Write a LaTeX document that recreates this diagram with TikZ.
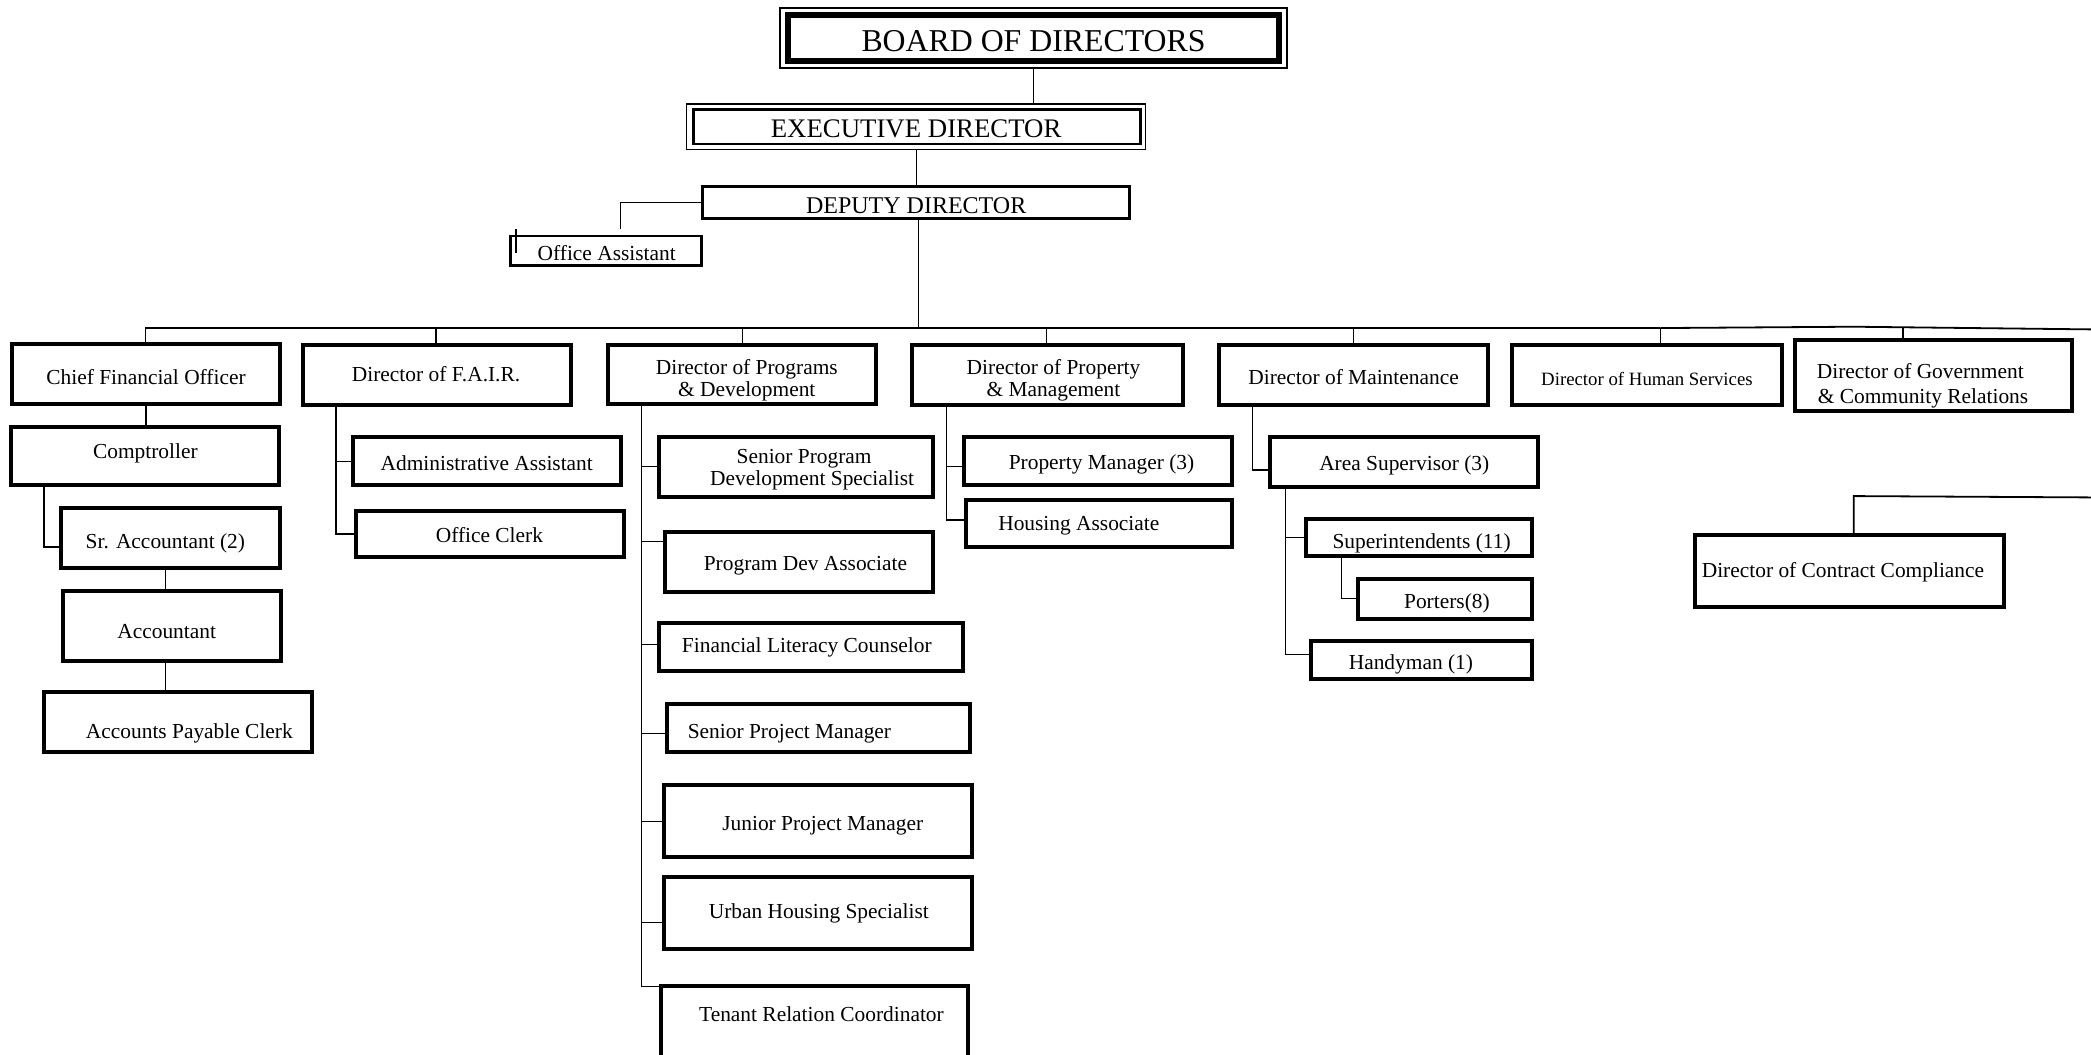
\documentclass[tikz,border=0pt]{standalone}
\usepackage{fontspec}
\setmainfont{Liberation Serif}
\usetikzlibrary{calc}
\newcommand\obox[6]{%
  \pgfmathsetmacro\obw{(#5-#3)*0.6667}%
  \pgfmathsetmacro\obh{(#6-#4)*0.6667}%
  \node[#1, minimum width=\obw pt, minimum height=\obh pt] (#2) at ({(#3+#5)/2},{(#4+#6)/2}) {};%
}
\begin{document}
\begin{tikzpicture}[x=0.6667pt,y=-0.6667pt,
  box/.style={draw, rectangle, line width=2pt, inner sep=0pt},
  mbox/.style={draw, rectangle, line width=1.3pt, inner sep=0pt},
  outerthin/.style={draw, rectangle, line width=0.7pt, inner sep=0pt},
  boardin/.style={draw, rectangle, line width=3pt, inner sep=0pt},
  execin/.style={draw, rectangle, line width=1.3pt, inner sep=0pt},
  conn/.style={line width=0.6pt},
  tbase/.style={inner sep=0pt, yshift=-1.4pt},
  txt/.style={tbase, font=\fontsize{10.7}{11.5}\selectfont, text height=7.2pt, text depth=2pt},
  txtb/.style={tbase, align=center, font=\fontsize{10.7}{11.3}\selectfont},
]
\useasboundingbox (0,0) rectangle (1568,791);

% top
\obox{outerthin}{boardo}{585}{6}{965}{51}
\obox{boardin}{board}{591}{11}{959}{46}
\node[tbase, yshift=0.4pt, font=\fontsize{15.9}{18}\selectfont] (boardt) at (775,29) {BOARD OF DIRECTORS};
\obox{outerthin}{execo}{515}{78}{859}{112}
\obox{execin}{exec}{520}{82}{855}{108}
\node[tbase, yshift=0.4pt, font=\fontsize{13.4}{15}\selectfont] (exect) at (687,95) {EXECUTIVE DIRECTOR};
\obox{mbox}{dep}{527}{140}{847}{164}
\node[tbase, yshift=0.4pt, font=\fontsize{12}{14}\selectfont] (dept) at (687,153) {DEPUTY DIRECTOR};
\obox{mbox}{oa}{383}{177}{526}{199}
\node[txt] (oat) at (455,189) {Office Assistant};

% level 2
\obox{box}{cfo}{9}{258}{210}{303}
\node[txt] (cfot) at (109.5,282) {Chief Financial Officer};
\obox{box}{fair}{227}{259}{428}{304}
\node[txt] (fairt) at (327,280) {Director of F.A.I.R.};
\obox{box}{prog}{456}{259}{657}{303}
\node[txtb] (progt) at (560,283) {Director of Programs\\\& Development};
\obox{box}{prop}{684}{259}{887}{304}
\node[txtb] (propt) at (790,283) {Director of Property\\\& Management};
\obox{box}{maint}{914}{259}{1116}{304}
\node[txt] (maintt) at (1015,282) {Director of Maintenance};
\obox{box}{hs}{1134}{259}{1336}{304}
\node[tbase, font=\fontsize{9.4}{11}\selectfont] (hst) at (1235,282) {Director of Human Services};
\obox{box}{gov}{1346}{255}{1554}{308}
\node[tbase, align=center, font=\fontsize{10.7}{12.7}\selectfont] (govt) at (1440,287) {Director of Government\\\ \& Community Relations};

% CFO branch
\obox{box}{comp}{8}{320}{209}{364}
\node[txt] (compt) at (109,338) {Comptroller};
\obox{box}{sracc}{46}{381}{210}{426}
\node[txt] (sracct) at (124,405) {Sr. Accountant (2)};
\obox{box}{acc}{47}{443}{211}{496}
\node[txt] (acct) at (125,473) {Accountant};
\obox{box}{apc}{33}{519}{234}{564}
\node[txt] (apct) at (142,548) {Accounts Payable Clerk};

% FAIR branch
\obox{box}{adm}{265}{328}{466}{364}
\node[txt] (admt) at (365,347) {Administrative Assistant};
\obox{box}{oc}{267}{383}{468}{418}
\node[txt] (oct) at (367,401) {Office Clerk};

% Programs branch
\obox{box}{spds}{494}{328}{700}{373}
\node[txtb] (spdst) at (609,350) {\hspace*{-8pt}Senior Program\\Development Specialist};
\obox{box}{pda}{499}{399}{700}{444}
\node[txt] (pdat) at (604,422) {Program Dev Associate};
\obox{box}{flc}{494}{467}{722}{503}
\node[txt] (flct) at (605,483) {Financial Literacy Counselor};
\obox{box}{spm}{500}{528}{727}{564}
\node[txt] (spmt) at (592,548) {Senior Project Manager};
\obox{box}{jpm}{498}{589}{729}{643}
\node[txt] (jpmt) at (617,617) {Junior Project Manager};
\obox{box}{uhs}{498}{658}{729}{712}
\node[txt] (uhst) at (614,683) {Urban Housing Specialist};
\obox{box}{trc}{496}{739}{726}{805}
\node[txt] (trct) at (616,760) {Tenant Relation Coordinator};

% Property branch
\obox{box}{pm}{723}{328}{924}{364}
\node[txt] (pmt) at (826,346) {Property Manager (3)};
\obox{box}{ha}{724}{375}{924}{410}
\node[txt] (hat) at (809,392) {Housing Associate};

% Maintenance branch
\obox{box}{as}{952}{328}{1153}{365}
\node[txt] (ast) at (1053,347) {Area Supervisor (3)};
\obox{box}{sup}{979}{389}{1149}{417}
\node[txt] (supt) at (1066,405) {Superintendents (11)};
\obox{box}{por}{1018}{434}{1149}{464}
\node[txt] (port) at (1085,450) {Porters(8)};
\obox{box}{hm}{983}{481}{1149}{509}
\node[txt] (hmt) at (1058,496) {Handyman (1)};

% Contract compliance
\obox{box}{dcc}{1271}{401}{1503}{455}
\node[txt] (dcct) at (1382,427) {Director of Contract Compliance};

% ---- connectors ----
\draw[conn] (boardo.south) -- (boardo.south |- execo.north);
\draw[conn] (execo.south) -- (dep.north);
\coordinate (oatop) at (465,172);
\draw[conn] (dep.west) -| (oatop);
\coordinate (tick) at (387,172);
\draw[conn] (tick) -- ++(0,18);
\coordinate (bus) at (689,246);
\draw[conn] (bus |- dep.south) -- (bus);
\coordinate (busL) at (109,246);
\coordinate (busM) at (1245,246);
\coordinate (busR) at (1568,247);
\draw[conn] (busL) -- (busM);
\draw[line width=0.9pt] (busM) -- (1390,245) -- (busR);
\foreach \n/\x in {cfo/109, fair/327, prog/557, prop/785, maint/1015, hs/1245, gov/1427}{
  \coordinate (d\n) at (\x,246);
  \draw[conn] (d\n) -- (d\n |- \n.north);
}
% CFO chain
\draw[conn] (cfo.south) -- (cfo.south |- comp.north);
\coordinate (c1) at (33,364);
\draw[conn] (c1) |- ($(sracc.north west)!0.64!(sracc.south west)$);
\coordinate (s1) at (124,426);
\draw[conn] (s1) -- (s1 |- acc.north);
\coordinate (s2) at (124,496);
\draw[conn] (s2) -- (s2 |- apc.north);
% FAIR
\coordinate (f1) at (252,304);
\draw[conn] (f1) |- (oc.west);
\draw[conn] (f1 |- adm.west) -- (adm.west);
% Programs
\coordinate (p1) at (481,304);
\draw[conn] (p1) |- ($(trc.north west)+(0,2)$);
\foreach \n/\y in {spds/350, pda/406, flc/483, spm/550, jpm/616, uhs/692}{
  \coordinate (pb\n) at (481,\y);
  \draw[conn] (pb\n) -- (pb\n -| \n.west);
}
% Property
\coordinate (r1) at (710,304);
\coordinate (r2) at (710,390);
\draw[conn] (r1) -- (r2) -- (r2 -| ha.west);
\coordinate (r3) at (710,350);
\draw[conn] (r3) -- (r3 -| pm.west);
% Maintenance
\coordinate (m1) at (939,304);
\draw[conn] (m1) |- ($(as.north west)!0.65!(as.south west)$);
\coordinate (m2) at (964,365);
\coordinate (m3) at (964,491);
\draw[conn] (m2) -- (m3) -- (m3 -| hm.west);
\draw[conn] (m2 |- sup.west) -- (sup.west);
\coordinate (m4) at (1006,417);
\draw[conn] (m4) |- (por.west);
% Contract compliance
\coordinate (k1) at (1568,373);
\coordinate (k2) at (1390,372);
\draw[line width=0.9pt] (k1) -- (k2) -- (k2 |- dcc.north);
\end{tikzpicture}
\end{document}
